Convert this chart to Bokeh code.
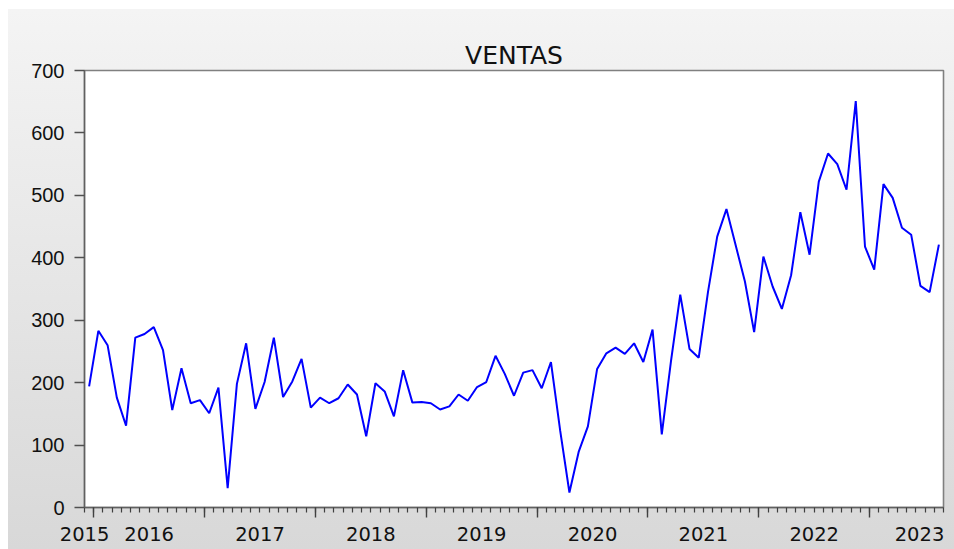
import pandas as pd
from bokeh.plotting import figure
from bokeh.models import FixedTicker, LinearAxis, Range1d
from bokeh.embed import file_html
from bokeh.resources import INLINE

# ---- data (monthly, 2015M12 .. 2023M08) ----
periods = [str(p) for p in pd.period_range("2015-12", "2023-08", freq="M")]
ventas = [194, 283, 260, 176, 131, 272, 278, 289, 252, 156, 223, 167,
          172, 151, 192, 31, 198, 263, 158, 201, 272, 177, 202, 238,
          160, 176, 167, 175, 197, 181, 114, 199, 186, 146, 220, 168,
          169, 167, 157, 162, 181, 171, 193, 201, 243, 214, 179, 216,
          220, 191, 233, 123, 24, 89, 130, 222, 247, 256, 246, 263,
          233, 285, 117, 235, 341, 254, 240, 345, 434, 478, 420, 362,
          281, 402, 354, 318, 372, 473, 405, 522, 567, 550, 509, 651,
          418, 381, 518, 496, 448, 437, 355, 345, 421]
year_labels = ["2015", "2016", "2017", "2018", "2019", "2020", "2021", "2022", "2023"]
y_ticks = [0, 100, 200, 300, 400, 500, 600, 700]
title_text = "VENTAS"

x = list(range(len(ventas)))
n = len(ventas)

# tick geometry derived from the period strings
month_bounds = [i - 0.5 for i in range(n + 1)]
year_bounds = [i - 0.5 for i, s in enumerate(periods) if s.endswith("-01")]
label_pos = []
for yl in year_labels:
    idx = [i for i, s in enumerate(periods) if s.startswith(yl)]
    first, last = idx[0], idx[-1]
    if len(idx) == 12:
        label_pos.append((first + last) / 2.0)
    elif first == 0:
        label_pos.append(-0.49)
    else:
        label_pos.append(last - 2.1)

FONT_X = "DejaVu Sans"
FONT_Y = "Liberation Sans"

p = figure(width=954, height=549, output_backend="svg", toolbar_location=None,
           x_range=Range1d(-0.5, n - 0.5), y_range=Range1d(0, 700),
           x_axis_location=None, y_axis_location="left",
           min_border_left=84, min_border_right=11,
           min_border_top=70, min_border_bottom=42,
           background_fill_color="white", border_fill_color=None,
           outline_line_color="#808080", outline_line_width=1.6)
p.styles = {"background": "linear-gradient(90deg, #ffffff 0px, #ffffff 8px, transparent 8px), "
                          "linear-gradient(180deg, #ffffff 0px, #ffffff 9px, #f4f4f4 9px, #d8d8d8 100%)"}

# invisible spacer axis above the frame: lifts the title (which sits outermost)
spacer = LinearAxis(ticker=FixedTicker(ticks=[]), major_tick_out=34, major_tick_in=0,
                    minor_tick_out=0, minor_tick_in=0, major_label_standoff=0,
                    axis_line_color=None, major_tick_line_color=None,
                    minor_tick_line_color=None)
p.add_layout(spacer, "above")

p.title.text = title_text
p.title.align = "center"
p.title.vertical_align = "bottom"
p.title.text_font = FONT_X
p.title.text_font_size = "25px"
p.title.text_font_style = "normal"
p.title.text_color = "#111111"
p.title.standoff = 2

p.xgrid.visible = False
p.ygrid.visible = False

# y axis
ya = p.yaxis[0]
ya.ticker = FixedTicker(ticks=y_ticks)
ya.major_tick_out = 10
ya.major_tick_in = 0
ya.minor_tick_out = 0
ya.minor_tick_in = 0
ya.axis_line_color = "#606060"
ya.axis_line_width = 1.4
ya.major_tick_line_color = "#505050"
ya.major_tick_line_width = 1.4
ya.major_label_text_font = FONT_Y
ya.major_label_text_font_size = "20px"
ya.major_label_text_color = "#111111"
ya.major_label_standoff = 10

# x axis A: ticks only (year boundaries long, month boundaries short)
xa = LinearAxis(ticker=FixedTicker(ticks=year_bounds, minor_ticks=month_bounds),
                major_tick_out=10, major_tick_in=0,
                minor_tick_out=5, minor_tick_in=0,
                major_label_overrides={t: "" for t in year_bounds},
                major_label_text_font_size="1px", major_label_standoff=0,
                axis_line_color="#606060", axis_line_width=1.4,
                major_tick_line_color="#404040", major_tick_line_width=1.4,
                minor_tick_line_color="#404040", minor_tick_line_width=1.2)
p.add_layout(xa, "below")

# x axis B: year labels only
xb = LinearAxis(ticker=FixedTicker(ticks=label_pos),
                major_label_overrides={pos: lab for pos, lab in zip(label_pos, year_labels)},
                major_tick_out=0, major_tick_in=0,
                minor_tick_out=0, minor_tick_in=0,
                axis_line_color=None, major_tick_line_color=None, minor_tick_line_color=None,
                major_label_text_font=FONT_X, major_label_text_font_size="19.5px",
                major_label_text_color="#111111", major_label_standoff=9)
p.add_layout(xb, "below")

p.line(x, ventas, line_color="#0000ff", line_width=2)

open("out.html", "w").write(file_html(p, INLINE))
